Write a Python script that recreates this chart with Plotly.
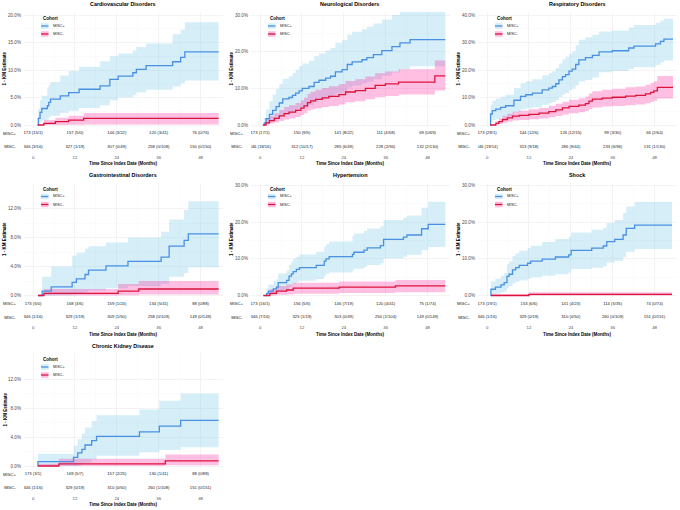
import plotly.graph_objects as go

# ---- values (time in months, cumulative incidence in %) ----
TITLES = ["Cardiovascular Disorders", "Neurological Disorders", "Respiratory Disorders",
          "Gastrointestinal Disorders", "Hypertension", "Shock", "Chronic Kidney Disease"]
COHORTS = ["MISC+", "MISC-"]
RISK_TIMES = [0, 12, 24, 36, 48]
Y_TICKS = [[0, 5, 10, 15, 20], [0, 10, 20, 30], [0, 10, 20, 30, 40],
           [0, 4, 8, 12], [0, 10, 20, 30], [0, 10, 20, 30], [0, 4, 8, 12]]

CARDIO_POS_T = [1.3, 1.5, 2.0, 2.5, 4.1, 4.5, 5.0, 7.8, 10.2, 13.2, 19.2, 22.0, 24.4, 28.6, 29.6, 32.4, 40.0, 42.3, 43.5, 53.2]
CARDIO_POS_EST = [0.0, 1.2, 2.3, 3.0, 3.5, 4.1, 4.7, 5.3, 5.9, 6.5, 7.1, 8.3, 8.9, 9.5, 10.1, 10.8, 11.5, 12.3, 13.3, 13.3]
CARDIO_POS_LO = [0.0, 0.1, 0.5, 0.8, 1.0, 1.4, 1.7, 2.2, 2.6, 3.1, 3.6, 4.5, 5.0, 5.4, 5.9, 6.4, 7.0, 7.6, 8.1, 8.1]
CARDIO_POS_HI = [0.0, 3.0, 4.5, 5.3, 6.8, 7.3, 7.8, 9.0, 9.8, 10.6, 11.6, 12.5, 13.0, 13.6, 14.2, 14.8, 16.5, 17.3, 18.7, 18.7]
CARDIO_NEG_T = [1.3, 3.1, 6.4, 10.2, 14.5, 53.2]
CARDIO_NEG_EST = [0.0, 0.3, 0.6, 0.9, 1.2, 1.2]
CARDIO_NEG_LO = [0.0, 0.0, 0.0, 0.05, 0.1, 0.1]
CARDIO_NEG_HI = [0.0, 0.9, 1.3, 1.7, 2.2, 2.2]
CARDIO_POS_RISK = ["173 (15/1)", "157 (5/0)", "146 (3/22)", "120 (3/41)", "76 (0/76)"]
CARDIO_NEG_RISK = ["346 (3/16)", "327 (1/19)", "307 (0/49)", "258 (0/108)", "150 (0/150)"]

NEURO_POS_T = [1.1, 1.2, 1.7, 2.7, 3.6, 4.6, 5.5, 6.5, 8.3, 9.3, 10.2, 11.2, 12.1, 14.0, 15.5, 16.9, 18.8, 20.2, 21.6, 23.5, 25.0, 26.4, 29.2, 30.6, 32.5, 34.9, 37.8, 40.1, 43.0, 53.1]
NEURO_POS_EST = [0.0, 0.6, 1.7, 2.9, 4.0, 5.0, 6.0, 7.1, 7.5, 8.1, 8.7, 9.3, 10.0, 10.5, 11.6, 12.2, 12.8, 13.3, 14.5, 15.1, 16.5, 17.2, 17.8, 18.4, 19.2, 20.3, 21.4, 22.4, 23.3, 23.3]
NEURO_POS_LO = [0.0, 0.0, 0.2, 0.6, 1.1, 1.6, 2.2, 2.9, 3.2, 3.6, 4.0, 4.5, 5.0, 5.4, 6.3, 6.8, 7.2, 7.6, 8.6, 9.1, 10.2, 10.8, 11.3, 11.8, 12.5, 13.4, 14.3, 15.2, 16.0, 16.0]
NEURO_POS_HI = [0.0, 2.0, 4.2, 6.5, 8.3, 9.8, 11.2, 12.6, 13.3, 14.2, 15.1, 16.0, 16.8, 17.5, 18.8, 19.5, 20.3, 21.0, 22.4, 23.1, 24.6, 25.4, 26.1, 26.8, 27.7, 28.8, 30.0, 31.0, 32.0, 32.0]
NEURO_NEG_T = [0.8, 1.7, 2.7, 4.1, 5.5, 6.9, 8.3, 10.2, 11.7, 12.6, 13.6, 14.5, 15.9, 17.8, 19.7, 22.6, 24.5, 27.3, 30.2, 33.0, 35.9, 39.7, 50.1, 53.1]
NEURO_NEG_EST = [0.0, 0.6, 1.2, 1.8, 2.5, 3.1, 3.5, 4.0, 4.6, 5.2, 6.1, 6.6, 7.0, 7.4, 7.8, 8.3, 9.0, 9.4, 10.0, 10.8, 11.2, 11.7, 13.4, 13.4]
NEURO_NEG_LO = [0.0, 0.1, 0.4, 0.7, 1.1, 1.5, 1.8, 2.2, 2.7, 3.2, 3.9, 4.3, 4.6, 4.9, 5.2, 5.6, 6.2, 6.5, 7.0, 7.6, 7.9, 8.3, 9.4, 9.4]
NEURO_NEG_HI = [0.0, 1.5, 2.4, 3.2, 4.1, 4.9, 5.4, 6.0, 6.7, 7.4, 8.5, 9.1, 9.6, 10.1, 10.6, 11.2, 12.0, 12.5, 13.2, 14.1, 14.6, 15.2, 17.6, 17.6]
NEURO_POS_RISK = ["173 (17/1)", "150 (9/5)", "141 (8/22)", "111 (4/58)", "69 (0/69)"]
NEURO_NEG_RISK = ["346 (18/16)", "312 (10/17)", "285 (6/49)", "228 (2/94)", "132 (2/130)"]

RESP_POS_T = [0.9, 1.0, 1.5, 2.5, 3.9, 5.3, 7.7, 9.6, 11.1, 13.0, 15.8, 17.7, 18.7, 19.7, 20.6, 21.6, 22.5, 23.5, 24.4, 25.4, 26.3, 28.2, 30.2, 32.1, 35.9, 40.6, 42.1, 48.3, 49.7, 50.7, 53.3]
RESP_POS_EST = [0.0, 4.0, 5.2, 5.8, 6.4, 7.0, 9.0, 10.4, 11.0, 11.6, 12.8, 13.4, 14.0, 15.0, 16.4, 17.6, 18.3, 19.6, 20.3, 22.0, 23.7, 24.5, 25.3, 26.6, 27.0, 28.0, 28.7, 29.5, 30.4, 31.2, 31.2]
RESP_POS_LO = [0.0, 1.0, 1.8, 2.2, 2.7, 3.1, 4.6, 5.6, 6.1, 6.5, 7.4, 7.9, 8.4, 9.1, 10.2, 11.1, 11.6, 12.6, 13.2, 14.5, 15.8, 16.4, 17.3, 19.2, 19.6, 20.4, 21.0, 21.8, 22.7, 23.5, 23.5]
RESP_POS_HI = [0.0, 7.5, 8.8, 9.6, 10.3, 11.0, 13.5, 15.2, 15.9, 16.6, 18.1, 18.8, 19.5, 20.7, 22.4, 23.9, 24.8, 25.8, 26.8, 29.0, 31.0, 31.9, 32.8, 34.0, 34.4, 35.5, 36.4, 37.2, 38.0, 38.6, 38.6]
RESP_NEG_T = [0.9, 2.5, 3.4, 4.4, 5.8, 7.3, 9.2, 12.0, 14.9, 17.7, 19.7, 21.6, 23.5, 26.3, 28.2, 29.2, 30.2, 33.0, 35.9, 39.7, 42.6, 45.4, 46.9, 47.8, 48.8, 53.3]
RESP_NEG_EST = [0.0, 0.6, 1.2, 2.0, 2.6, 3.2, 3.5, 3.9, 4.3, 4.9, 5.5, 6.2, 6.8, 7.2, 7.8, 8.7, 9.4, 9.8, 10.1, 10.5, 10.8, 11.3, 11.9, 12.4, 13.7, 13.7]
RESP_NEG_LO = [0.0, 0.1, 0.4, 0.8, 1.2, 1.6, 1.8, 2.1, 2.4, 2.8, 3.3, 3.8, 4.3, 4.6, 5.1, 5.8, 6.4, 6.7, 6.9, 7.2, 7.5, 7.9, 8.4, 8.8, 9.6, 9.6]
RESP_NEG_HI = [0.0, 1.5, 2.4, 3.4, 4.1, 4.8, 5.2, 5.7, 6.2, 7.0, 7.7, 8.5, 9.2, 9.7, 10.4, 11.5, 12.3, 12.8, 13.2, 13.7, 14.0, 14.6, 15.3, 15.9, 17.8, 17.8]
RESP_POS_RISK = ["173 (28/1)", "144 (12/6)", "126 (12/15)", "99 (3/30)", "66 (2/64)"]
RESP_NEG_RISK = ["346 (19/14)", "313 (9/18)", "286 (9/44)", "233 (6/96)", "131 (1/130)"]

GI_POS_T = [1.4, 2.6, 5.2, 11.2, 12.4, 14.9, 15.9, 20.9, 27.2, 36.7, 39.0, 43.3, 44.5, 53.2]
GI_POS_EST = [0.0, 0.6, 1.2, 1.8, 2.3, 2.9, 3.5, 4.1, 4.7, 5.3, 6.8, 7.6, 8.5, 8.5]
GI_POS_LO = [0.0, 0.0, 0.05, 0.15, 0.3, 0.5, 0.7, 1.0, 1.3, 1.6, 2.6, 3.1, 3.9, 3.9]
GI_POS_HI = [0.0, 2.6, 4.0, 5.5, 5.9, 6.5, 6.8, 7.3, 8.0, 8.8, 10.5, 11.8, 13.0, 13.0]
GI_NEG_T = [1.4, 3.1, 24.4, 30.3, 53.2]
GI_NEG_EST = [0.0, 0.3, 0.6, 0.9, 0.9]
GI_NEG_LO = [0.0, 0.0, 0.05, 0.15, 0.15]
GI_NEG_HI = [0.0, 0.9, 1.6, 2.0, 2.0]
GI_POS_RISK = ["173 (5/0)", "168 (3/6)", "159 (1/24)", "134 (5/41)", "88 (0/88)"]
GI_NEG_RISK = ["346 (1/16)", "329 (1/19)", "309 (1/50)", "258 (0/109)", "149 (0/149)"]

HYP_POS_T = [1.4, 1.9, 2.4, 3.8, 4.7, 5.2, 7.6, 8.3, 9.0, 9.5, 10.4, 11.3, 16.1, 18.4, 18.9, 19.8, 26.5, 26.9, 29.8, 30.7, 34.5, 35.4, 41.1, 42.1, 46.3, 48.2, 53.1]
HYP_POS_EST = [0.0, 0.6, 1.2, 1.8, 2.3, 3.5, 4.1, 5.3, 5.9, 6.5, 7.1, 7.6, 8.2, 9.4, 10.0, 10.6, 11.2, 11.8, 12.4, 13.0, 13.6, 15.3, 15.9, 16.5, 18.2, 19.4, 19.4]
HYP_POS_LO = [0.0, 0.0, 0.1, 0.3, 0.6, 1.1, 1.5, 2.3, 2.7, 3.2, 3.6, 4.0, 4.5, 5.4, 5.9, 6.3, 6.8, 7.3, 7.8, 8.3, 8.8, 10.1, 10.6, 11.1, 12.4, 13.2, 13.2]
HYP_POS_HI = [0.0, 2.0, 3.0, 3.8, 4.5, 6.0, 6.8, 8.4, 9.2, 10.0, 10.6, 11.2, 11.9, 13.3, 14.0, 14.7, 16.2, 16.9, 17.6, 18.3, 18.9, 20.6, 21.2, 21.8, 23.9, 25.6, 25.6]
HYP_NEG_T = [0.9, 2.8, 4.7, 7.6, 9.5, 22.7, 38.8, 53.1]
HYP_NEG_EST = [0.0, 0.6, 1.2, 1.5, 2.0, 2.3, 2.6, 2.6]
HYP_NEG_LO = [0.0, 0.0, 0.2, 0.3, 0.5, 0.7, 0.9, 0.9]
HYP_NEG_HI = [0.0, 1.7, 2.6, 3.0, 3.5, 3.8, 4.2, 4.2]
HYP_POS_RISK = ["173 (16/1)", "156 (5/5)", "146 (7/19)", "120 (4/41)", "75 (1/74)"]
HYP_NEG_RISK = ["346 (7/16)", "323 (1/19)", "303 (0/49)", "254 (1/104)", "149 (0/149)"]

SHOCK_POS_T = [1.0, 1.1, 2.4, 4.0, 4.9, 5.7, 6.3, 7.3, 8.2, 9.2, 11.6, 12.5, 15.8, 19.6, 23.4, 24.1, 30.0, 33.3, 34.3, 36.6, 39.0, 39.9, 42.3, 53.0]
SHOCK_POS_EST = [0.0, 1.7, 2.3, 2.9, 3.5, 5.2, 5.8, 7.0, 7.6, 8.2, 8.8, 9.4, 9.9, 10.5, 11.1, 12.3, 12.9, 13.5, 14.7, 15.3, 16.5, 18.3, 19.2, 19.2]
SHOCK_POS_LO = [0.0, 0.3, 0.5, 0.8, 1.1, 2.1, 2.5, 3.3, 3.7, 4.1, 4.6, 5.0, 5.4, 5.8, 6.3, 7.2, 7.6, 8.0, 9.0, 9.5, 10.4, 11.9, 12.7, 12.7]
SHOCK_POS_HI = [0.0, 3.8, 4.6, 5.4, 6.2, 8.5, 9.3, 10.8, 11.5, 12.2, 12.9, 13.6, 14.6, 15.4, 16.0, 17.2, 17.9, 18.5, 19.8, 20.6, 22.5, 24.3, 25.5, 25.5]
SHOCK_NEG_T = [1.1, 12.0, 53.0]
SHOCK_NEG_EST = [0.0, 0.3, 0.3]
SHOCK_NEG_LO = [0.0, 0.0, 0.0]
SHOCK_NEG_HI = [0.4, 0.9, 0.9]
SHOCK_POS_RISK = ["173 (19/1)", "153 (6/6)", "141 (4/23)", "114 (5/35)", "74 (0/74)"]
SHOCK_NEG_RISK = ["346 (1/16)", "329 (0/19)", "310 (0/50)", "260 (0/109)", "151 (0/151)"]

CKD_POS_T = [1.3, 1.4, 11.6, 12.8, 14.0, 14.9, 16.8, 18.2, 30.5, 36.2, 42.3, 53.2]
CKD_POS_EST = [0.0, 0.6, 1.2, 1.8, 2.3, 2.9, 3.5, 4.1, 4.7, 5.5, 6.3, 6.3]
CKD_POS_LO = [0.0, 0.0, 0.0, 0.1, 0.3, 0.5, 0.9, 1.4, 1.9, 2.2, 2.6, 2.6]
CKD_POS_HI = [0.0, 1.7, 2.8, 3.7, 4.5, 5.3, 6.2, 7.0, 7.8, 9.0, 10.0, 10.0]
CKD_NEG_T = [1.4, 7.4, 37.9, 53.2]
CKD_NEG_EST = [0.0, 0.3, 0.7, 0.7]
CKD_NEG_LO = [0.0, 0.0, 0.1, 0.1]
CKD_NEG_HI = [0.3, 1.0, 1.6, 1.6]
CKD_POS_RISK = ["173 (3/1)", "169 (5/7)", "157 (2/25)", "130 (1/41)", "88 (0/88)"]
CKD_NEG_RISK = ["346 (1/16)", "329 (0/19)", "310 (0/50)", "260 (1/108)", "151 (0/151)"]

PANELS = [
    ((CARDIO_POS_T, CARDIO_POS_EST, CARDIO_POS_LO, CARDIO_POS_HI),
     (CARDIO_NEG_T, CARDIO_NEG_EST, CARDIO_NEG_LO, CARDIO_NEG_HI), CARDIO_POS_RISK, CARDIO_NEG_RISK),
    ((NEURO_POS_T, NEURO_POS_EST, NEURO_POS_LO, NEURO_POS_HI),
     (NEURO_NEG_T, NEURO_NEG_EST, NEURO_NEG_LO, NEURO_NEG_HI), NEURO_POS_RISK, NEURO_NEG_RISK),
    ((RESP_POS_T, RESP_POS_EST, RESP_POS_LO, RESP_POS_HI),
     (RESP_NEG_T, RESP_NEG_EST, RESP_NEG_LO, RESP_NEG_HI), RESP_POS_RISK, RESP_NEG_RISK),
    ((GI_POS_T, GI_POS_EST, GI_POS_LO, GI_POS_HI),
     (GI_NEG_T, GI_NEG_EST, GI_NEG_LO, GI_NEG_HI), GI_POS_RISK, GI_NEG_RISK),
    ((HYP_POS_T, HYP_POS_EST, HYP_POS_LO, HYP_POS_HI),
     (HYP_NEG_T, HYP_NEG_EST, HYP_NEG_LO, HYP_NEG_HI), HYP_POS_RISK, HYP_NEG_RISK),
    ((SHOCK_POS_T, SHOCK_POS_EST, SHOCK_POS_LO, SHOCK_POS_HI),
     (SHOCK_NEG_T, SHOCK_NEG_EST, SHOCK_NEG_LO, SHOCK_NEG_HI), SHOCK_POS_RISK, SHOCK_NEG_RISK),
    ((CKD_POS_T, CKD_POS_EST, CKD_POS_LO, CKD_POS_HI),
     (CKD_NEG_T, CKD_NEG_EST, CKD_NEG_LO, CKD_NEG_HI), CKD_POS_RISK, CKD_NEG_RISK),
]

# ---- styling ----
W, H = 680, 510
FONT = "Liberation Sans, Arial, sans-serif"
LINE_COLORS = ["#4A90E2", "#DC143C"]
BAND_COLORS = ["rgba(135,206,235,0.35)", "rgba(255,20,147,0.27)"]
GRID = "#EBEBEB"
TICK_GREY = "#4D4D4D"
X_RANGE = [-2.6, 54.3]


def px(xp, yp):
    return xp / W, 1 - yp / H


def axis_names(n):
    s = "" if n == 1 else str(n)
    return "xaxis" + s, "yaxis" + s, "x" + s, "y" + s


fig = go.Figure()
layout = {}
annotations = []
shapes = []

for k, (pos, neg, pos_risk, neg_risk) in enumerate(PANELS):
    r, c = divmod(k, 3)
    ox, oy = c * 227.0, r * 170.5
    xa_name, ya_name, xa, ya = axis_names(2 * k + 1)
    xt_name, yt_name, xt, yt = axis_names(2 * k + 2)

    # bands first (blue, then pink on top), then the step curves
    for (t, est, lo, hi), band in zip((pos, neg), BAND_COLORS):
        fig.add_trace(go.Scatter(x=t, y=lo, mode="lines", line=dict(width=0, shape="hv"),
                                 xaxis=xa, yaxis=ya, hoverinfo="skip", showlegend=False))
        fig.add_trace(go.Scatter(x=t, y=hi, mode="lines", line=dict(width=0, shape="hv"),
                                 fill="tonexty", fillcolor=band,
                                 xaxis=xa, yaxis=ya, hoverinfo="skip", showlegend=False))
    for (t, est, lo, hi), color, name in zip((pos, neg), LINE_COLORS, COHORTS):
        fig.add_trace(go.Scatter(x=t, y=est, mode="lines", name=name,
                                 line=dict(color=color, width=1.3, shape="hv"),
                                 xaxis=xa, yaxis=ya, showlegend=False))

    # number-at-risk table
    for risk, name in zip((pos_risk, neg_risk), COHORTS):
        fig.add_trace(go.Scatter(x=RISK_TIMES, y=[name] * len(RISK_TIMES), text=risk,
                                 mode="text", textfont=dict(size=4.2, color="#1A1A1A", family=FONT),
                                 xaxis=xt, yaxis=yt, hoverinfo="skip", showlegend=False))

    ticks = Y_TICKS[k]
    top_max = ticks[-1]
    p_top = 38.0 if top_max == 12 else 15.0
    p_zero, p_bot, p_dom_top = 125.0, 126.6, 12.0
    scale = (p_zero - p_top) / top_max
    y_range = [-(p_bot - p_zero) / scale, top_max + (p_top - p_dom_top) / scale]

    x0, _ = px(ox + 24, 0)
    x1, _ = px(ox + 222.5, 0)
    _, y_main_lo = px(0, oy + p_bot)
    _, y_main_hi = px(0, oy + p_dom_top)
    _, y_tab_lo = px(0, oy + 153.4)

    layout[xa_name] = dict(domain=[x0, x1], range=X_RANGE, anchor=ya, tickvals=RISK_TIMES,
                           showticklabels=False, showgrid=True, gridcolor=GRID, gridwidth=0.6,
                           zeroline=False, showline=False, ticks="",
                           minor=dict(tickvals=[6, 18, 30, 42], showgrid=True, gridcolor="#F4F4F4", gridwidth=0.4))
    layout[ya_name] = dict(domain=[y_main_lo, y_main_hi], range=y_range, anchor=xa,
                           tickvals=ticks, ticktext=[f"{v:.1f}%" for v in ticks],
                           tickfont=dict(size=4.6, color=TICK_GREY, family=FONT),
                           showgrid=True, gridcolor=GRID, gridwidth=0.6, zeroline=False,
                           showline=False, ticks="", ticklabelstandoff=2,
                           minor=dict(tickvals=[(a + b) / 2 for a, b in zip(ticks[:-1], ticks[1:])],
                                      showgrid=True, gridcolor="#F4F4F4", gridwidth=0.4))
    layout[xt_name] = dict(domain=[x0, x1], range=X_RANGE, anchor=yt, tickvals=RISK_TIMES,
                           tickfont=dict(size=4.3, color=TICK_GREY, family=FONT),
                           showgrid=False, zeroline=False, showline=False, ticks="")
    layout[yt_name] = dict(domain=[y_tab_lo, y_main_lo], range=[-0.5, 1.5], anchor=xt,
                           type="category", categoryorder="array", categoryarray=COHORTS[::-1],
                           tickfont=dict(size=4.2, color="#1A1A1A", family=FONT),
                           showgrid=False, zeroline=False, showline=False, ticks="",
                           ticklabelstandoff=7)

    # titles
    cx, ty = px(ox + 123, oy + 4.5)
    annotations.append(dict(text=f"<b>{TITLES[k]}</b>", x=cx, y=ty, xref="paper", yref="paper",
                            showarrow=False, font=dict(size=5.4, color="black", family=FONT),
                            xanchor="center", yanchor="middle"))
    _, xty = px(0, oy + 163.5)
    annotations.append(dict(text="<b>Time Since Index Date (Months)</b>", x=cx, y=xty,
                            xref="paper", yref="paper", showarrow=False,
                            font=dict(size=4.5, color="black", family=FONT),
                            xanchor="center", yanchor="middle"))
    ytx, yty = px(ox + 4.6, oy + 69)
    annotations.append(dict(text="<b>1 - KM Estimate</b>", x=ytx, y=yty, xref="paper", yref="paper",
                            showarrow=False, textangle=-90,
                            font=dict(size=4.5, color="black", family=FONT),
                            xanchor="center", yanchor="middle"))

    # cohort key
    lx, ly = px(ox + 41, oy + 18.5)
    annotations.append(dict(text="<b>Cohort</b>", x=lx, y=ly, xref="paper", yref="paper",
                            showarrow=False, font=dict(size=4.5, color="black", family=FONT),
                            xanchor="left", yanchor="middle"))
    for i, (name, color, band) in enumerate(zip(COHORTS, LINE_COLORS, BAND_COLORS)):
        yc = oy + 26 + 8 * i
        kx0, ky0 = px(ox + 41, yc - 2.8)
        kx1, ky1 = px(ox + 48.5, yc + 2.8)
        shapes.append(dict(type="rect", xref="paper", yref="paper", x0=kx0, x1=kx1, y0=ky1, y1=ky0,
                           fillcolor=band, line=dict(width=0)))
        _, kyc = px(0, yc)
        shapes.append(dict(type="line", xref="paper", yref="paper", x0=kx0, x1=kx1, y0=kyc, y1=kyc,
                           line=dict(color=color, width=1.3)))
        tx, _ = px(ox + 51, 0)
        annotations.append(dict(text=name, x=tx, y=kyc, xref="paper", yref="paper",
                                showarrow=False, font=dict(size=3.8, color="#1A1A1A", family=FONT),
                                xanchor="left", yanchor="middle"))

fig.update_layout(
    width=W, height=H,
    margin=dict(l=0, r=0, t=0, b=0),
    paper_bgcolor="white", plot_bgcolor="white",
    showlegend=False,
    font=dict(family=FONT),
    annotations=annotations,
    shapes=shapes,
    **layout,
)

# the page's default 8px body margin would push the 680x510 figure off the window
fig.write_html("out.html", config={"staticPlot": True, "displayModeBar": False},
               post_script="document.body.style.margin='0px';")
